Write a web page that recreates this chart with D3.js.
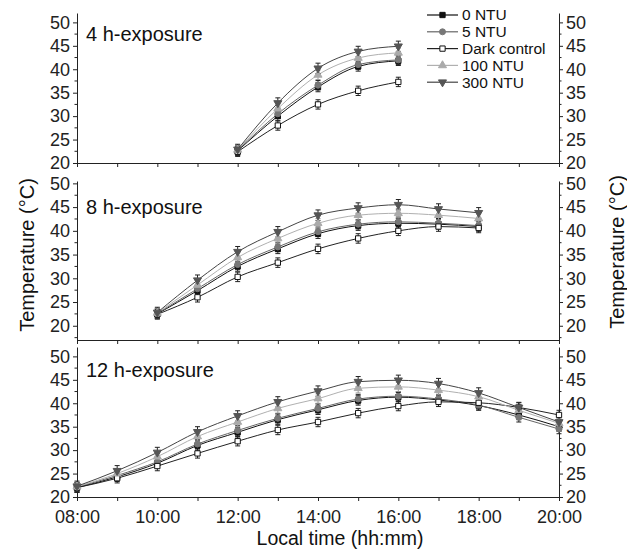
<!DOCTYPE html>
<html>
<head>
<meta charset="utf-8">
<script src="https://cdn.jsdelivr.net/npm/d3@7"></script>
<style>
  body { margin: 0; background: #fff; }
  svg { display: block; font-family: "Liberation Sans", Arial, sans-serif; }
</style>
</head>
<body>
<svg id="chart" width="627" height="550"></svg>
<script>
// series order: 0 NTU, 5 NTU, Dark control, 100 NTU, 300 NTU
const seriesNames = ["0 NTU", "5 NTU", "Dark control", "100 NTU", "300 NTU"];
const xTickLabels = ["08:00", "10:00", "12:00", "14:00", "16:00", "18:00", "20:00"];
const yTickLabels = [20, 25, 30, 35, 40, 45, 50];
const errorBars = [1.0, 1.0, 1.0, 1.0, 1.1];

// 4 h-exposure
const hours4h = ["12:00", "13:00", "14:00", "15:00", "16:00"];
const ntu0_4h   = [22.6, 30.0, 36.2, 40.6, 41.8];
const ntu5_4h   = [22.7, 30.5, 36.6, 41.0, 42.0];
const dark_4h   = [22.4, 28.0, 32.5, 35.4, 37.3];
const ntu100_4h = [22.8, 31.6, 38.8, 42.4, 43.5];
const ntu300_4h = [22.9, 32.8, 40.2, 43.8, 44.9];

// 8 h-exposure
const hours8h = ["10:00", "11:00", "12:00", "13:00", "14:00", "15:00", "16:00", "17:00", "18:00"];
const ntu0_8h   = [22.5, 27.4, 32.5, 36.2, 39.4, 41.1, 41.6, 41.4, 40.9];
const ntu5_8h   = [22.6, 27.8, 32.9, 36.6, 39.8, 41.4, 41.9, 41.6, 41.1];
const dark_8h   = [22.4, 26.0, 30.3, 33.3, 36.2, 38.4, 40.0, 40.9, 40.6];
const ntu100_8h = [22.7, 28.6, 34.4, 38.4, 41.6, 43.3, 43.7, 43.3, 42.6];
const ntu300_8h = [22.8, 29.6, 35.6, 39.8, 43.3, 44.8, 45.5, 44.6, 43.8];

// 12 h-exposure
const hours12h = ["08:00", "09:00", "10:00", "11:00", "12:00", "13:00", "14:00",
                  "15:00", "16:00", "17:00", "18:00", "19:00", "20:00"];
const ntu0_12h   = [22.0, 24.3, 27.2, 31.0, 33.8, 36.5, 38.6, 40.6, 41.3, 40.7, 39.5, 37.5, 35.0];
const ntu5_12h   = [22.1, 24.6, 27.5, 31.3, 34.2, 36.8, 38.9, 40.9, 41.5, 40.9, 39.6, 37.0, 34.5];
const dark_12h   = [22.0, 24.0, 26.6, 29.3, 31.9, 34.3, 36.0, 37.9, 39.4, 40.3, 40.1, 39.1, 37.5];
const ntu100_12h = [22.2, 25.0, 28.6, 32.9, 36.0, 38.9, 41.0, 43.2, 43.5, 42.8, 41.4, 38.5, 35.7];
const ntu300_12h = [22.3, 25.6, 29.5, 33.9, 37.3, 40.3, 42.6, 44.6, 44.9, 44.2, 42.2, 39.1, 36.0];

const panels = [
  { label: "4 h-exposure", hours: hours4h, values: [ntu0_4h, ntu5_4h, dark_4h, ntu100_4h, ntu300_4h],
    top: 13, bottom: 163, domain: [20, 52], labelY: 41 },
  { label: "8 h-exposure", hours: hours8h, values: [ntu0_8h, ntu5_8h, dark_8h, ntu100_8h, ntu300_8h],
    top: 181, bottom: 340, domain: [17, 50.5], labelY: 214 },
  { label: "12 h-exposure", hours: hours12h, values: [ntu0_12h, ntu5_12h, dark_12h, ntu100_12h, ntu300_12h],
    top: 347, bottom: 497, domain: [20, 52], labelY: 377 }
];

// styles per series
const styles = [
  { line: "#111", fill: "#111", stroke: "#111", sym: d3.symbolSquare, size: 28 },
  { line: "#666", fill: "#777", stroke: "#777", sym: d3.symbolCircle, size: 28 },
  { line: "#222", fill: "#fff", stroke: "#111", sym: d3.symbolSquare, size: 28 },
  { line: "#b0b0b0", fill: "#aaa", stroke: "#aaa", sym: d3.symbolTriangle, size: 28 },
  { line: "#444", fill: "#555", stroke: "#555", sym: d3.symbolTriangle, size: 28, flip: true }
];

const svg = d3.select("#chart");
const parse = d3.timeParse("%H:%M");
const fmt = d3.timeFormat("%H:%M");
const left = 77, right = 559;

const x = d3.scaleTime()
  .domain([parse("08:00"), parse("20:00")])
  .range([left, right]);

const hourTicks = d3.timeHour.range(parse("08:00"), d3.timeMinute.offset(parse("20:00"), 1));
const fontTick = "18px";

panels.forEach((p, pi) => {
  const y = d3.scaleLinear().domain(p.domain).range([p.bottom, p.top]);
  const g = svg.append("g");

  // minor y ticks
  const minor = d3.range(p.domain[0] <= 17.5 ? 17.5 : 22.5, 51, 5);

  // left axis
  const yl = g.append("g")
    .attr("transform", `translate(${left},0)`)
    .call(d3.axisLeft(y).tickValues(yTickLabels).tickSize(4).tickPadding(3).tickSizeOuter(0));
  yl.selectAll(".minor").data(minor).join("line")
    .attr("class", "minor")
    .attr("x1", -2.5).attr("x2", 0)
    .attr("y1", d => y(d)).attr("y2", d => y(d));

  // right axis
  const yr = g.append("g")
    .attr("transform", `translate(${right},0)`)
    .call(d3.axisRight(y).tickValues(yTickLabels).tickSize(4).tickPadding(3).tickSizeOuter(0));
  yr.selectAll(".minor").data(minor).join("line")
    .attr("class", "minor")
    .attr("x1", 0).attr("x2", 2.5)
    .attr("y1", d => y(d)).attr("y2", d => y(d));

  // bottom axis
  const xa = g.append("g")
    .attr("transform", `translate(0,${p.bottom})`)
    .call(d3.axisBottom(x).tickValues(hourTicks).tickSize(4).tickPadding(6).tickSizeOuter(0)
      .tickFormat(d => (pi === 2 && xTickLabels.includes(fmt(d))) ? fmt(d) : ""));
  xa.selectAll("text").attr("dy", "0.9em");

  [yl, yr, xa].forEach(a => {
    a.selectAll("text").style("font-size", fontTick).attr("fill", "#222");
    a.selectAll("path, line").attr("stroke", "#222");
  });

  // panel label
  g.append("text")
    .attr("x", 86).attr("y", p.labelY)
    .style("font-size", "20px")
    .attr("fill", "#111")
    .text(p.label);

  // series
  p.values.forEach((vals, si) => {
    const st = styles[si];
    const pts = vals.map((v, i) => ({ t: parse(p.hours[i]), v }));
    const line = d3.line().x(d => x(d.t)).y(d => y(d.v)).curve(d3.curveMonotoneX);
    g.append("path")
      .datum(pts)
      .attr("fill", "none")
      .attr("stroke", st.line)
      .attr("stroke-width", 1)
      .attr("d", line);

    const e = errorBars[si];
    const eg = g.append("g").attr("stroke", si === 3 ? "#999" : "#222").attr("stroke-width", 1);
    eg.selectAll(".eb").data(pts).join("path")
      .attr("fill", "none")
      .attr("d", d => {
        const cx = x(d.t), y0 = y(d.v - e), y1 = y(d.v + e);
        return `M${cx},${y0}V${y1}M${cx - 2.5},${y0}H${cx + 2.5}M${cx - 2.5},${y1}H${cx + 2.5}`;
      });
  });
  // markers on top
  p.values.forEach((vals, si) => {
    const st = styles[si];
    const pts = vals.map((v, i) => ({ t: parse(p.hours[i]), v }));
    g.append("g").selectAll("path").data(pts).join("path")
      .attr("d", d3.symbol(st.sym, st.size))
      .attr("transform", d => `translate(${x(d.t)},${y(d.v)})${st.flip ? " rotate(180)" : ""}`)
      .attr("fill", st.fill)
      .attr("stroke", st.stroke)
      .attr("stroke-width", 1);
  });
});

// axis titles
svg.append("text")
  .attr("transform", "translate(34,255) rotate(-90)")
  .attr("text-anchor", "middle")
  .style("font-size", "20px")
  .attr("fill", "#111")
  .text("Temperature (°C)");

svg.append("text")
  .attr("transform", "translate(624,252) rotate(-90)")
  .attr("text-anchor", "middle")
  .style("font-size", "20px")
  .attr("fill", "#111")
  .text("Temperature (°C)");

svg.append("text")
  .attr("x", (left + right) / 2 + 22).attr("y", 545)
  .attr("text-anchor", "middle")
  .style("font-size", "19.5px")
  .attr("fill", "#111")
  .text("Local time (hh:mm)");

// legend
const legend = svg.append("g").attr("transform", "translate(427,15)");
seriesNames.forEach((name, i) => {
  const st = styles[i];
  const row = legend.append("g").attr("transform", `translate(0,${i * 16.8})`);
  row.append("line").attr("x1", 0).attr("x2", 31).attr("y1", 0).attr("y2", 0)
    .attr("stroke", st.line).attr("stroke-width", 1.2);
  row.append("path")
    .attr("d", d3.symbol(st.sym, st.size))
    .attr("transform", `translate(15.5,0)${st.flip ? " rotate(180)" : ""}`)
    .attr("fill", st.fill).attr("stroke", st.stroke);
  row.append("text")
    .attr("x", 35).attr("y", 0).attr("dy", "0.35em")
    .style("font-size", "15.5px")
    .attr("fill", "#111")
    .text(name);
});
</script>
</body>
</html>
